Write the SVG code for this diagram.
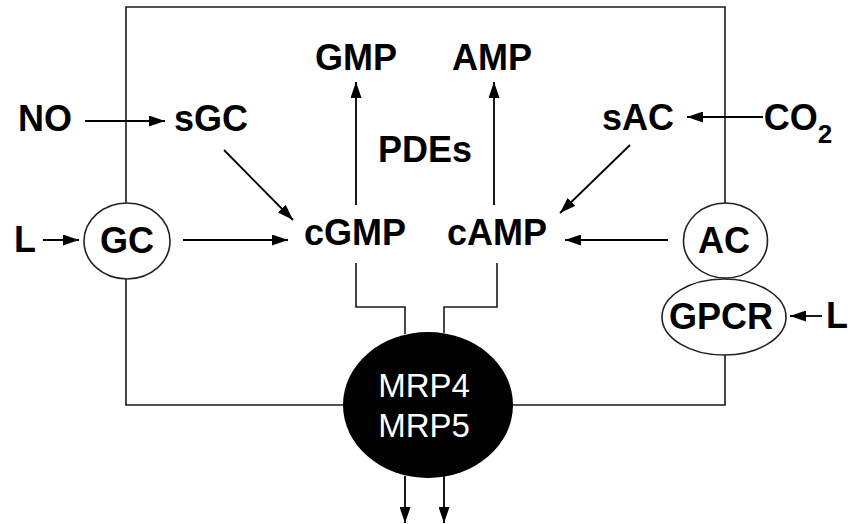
<svg xmlns="http://www.w3.org/2000/svg" width="850" height="524" viewBox="0 0 850 524">
<style>
.b{font-family:"Liberation Sans",Arial,Helvetica,sans-serif;font-weight:bold;font-size:36px;fill:#000;text-anchor:middle}
.w{font-family:"Liberation Sans",Arial,Helvetica,sans-serif;font-size:33px;fill:#fff;text-anchor:middle}
.ln{fill:none;stroke:#1a1a1a;stroke-width:1.6}
.ar{fill:none;stroke:#000;stroke-width:1.8;marker-end:url(#ah)}
.el{fill:#fff;stroke:#222;stroke-width:1.6}
</style>
<defs>
<marker id="ah" markerUnits="userSpaceOnUse" markerWidth="16" markerHeight="11" refX="16" refY="5.5" orient="auto">
<path d="M0,0 L16,5.5 L0,11 z" fill="#000"/>
</marker>
</defs>
<rect width="850" height="524" fill="#fff"/>
<g id="connectors">
<path class="ln" d="M126,203 L126,7 L725,7 L725,203"/>
<path class="ln" d="M126,279 L126,405 L343,405"/>
<path class="ln" d="M513,405 L725,405 L725,355"/>
<path class="ln" d="M356,263 L356,307 L405,307 L405,334"/>
<path class="ln" d="M497,263 L497,307 L444,307 L444,333"/>
<line class="ar" x1="85" y1="121" x2="165" y2="121"/>
<line class="ar" x1="763" y1="117" x2="687" y2="117"/>
<line class="ar" x1="224" y1="150" x2="293" y2="220"/>
<line class="ar" x1="630" y1="145" x2="560" y2="213"/>
<line class="ar" x1="43" y1="240" x2="79" y2="240"/>
<line class="ar" x1="183" y1="240" x2="288" y2="240"/>
<line class="ar" x1="668" y1="240" x2="565" y2="240"/>
<line class="ar" x1="356" y1="205" x2="356" y2="82"/>
<line class="ar" x1="494" y1="205" x2="494" y2="82"/>
<line class="ar" x1="822" y1="316" x2="790" y2="316"/>
<line class="ar" x1="405" y1="476" x2="405" y2="523"/>
<line class="ar" x1="444" y1="476" x2="444" y2="523"/>
</g>
<g id="NO"><text class="b" x="45" y="131">NO</text></g>
<g id="sGC"><text class="b" x="211" y="131">sGC</text></g>
<g id="GMP"><text class="b" x="356" y="70">GMP</text></g>
<g id="AMP"><text class="b" x="492" y="70">AMP</text></g>
<g id="PDEs"><text class="b" x="425" y="162">PDEs</text></g>
<g id="sAC"><text class="b" x="638" y="130">sAC</text></g>
<g id="CO2"><text class="b" x="798" y="130">CO<tspan font-size="26" dy="13">2</tspan></text></g>
<g id="L1"><text class="b" x="25" y="252">L</text></g>
<g id="GC"><ellipse class="el" cx="127" cy="241" rx="43" ry="38"/><text class="b" x="127" y="253">GC</text></g>
<g id="cGMP"><text class="b" x="355" y="245">cGMP</text></g>
<g id="cAMP"><text class="b" x="497" y="245">cAMP</text></g>
<g id="AC"><ellipse class="el" cx="725.5" cy="240.5" rx="42" ry="37.5"/><text class="b" x="724" y="253">AC</text></g>
<g id="GPCR"><ellipse class="el" cx="724" cy="317" rx="62" ry="38"/><text class="b" x="721" y="329">GPCR</text></g>
<g id="L2"><text class="b" x="837" y="328">L</text></g>
<g id="MRP"><ellipse cx="428" cy="405" rx="85" ry="73" fill="#000"/><text class="w" x="424" y="397">MRP4</text><text class="w" x="424" y="437">MRP5</text></g>
</svg>
